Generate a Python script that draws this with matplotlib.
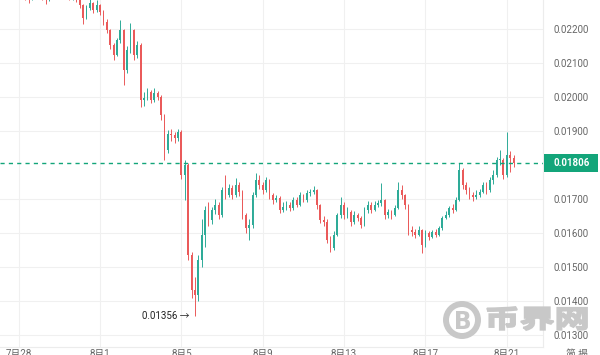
import numpy as np
import matplotlib
matplotlib.use("Agg")
import matplotlib.pyplot as plt
from matplotlib.patches import Rectangle, Circle, PathPatch
from matplotlib.textpath import TextPath
from matplotlib.font_manager import FontProperties
from matplotlib.transforms import Affine2D

plt.rcParams['font.family'] = ['Roboto', 'Noto Sans CJK SC', 'DejaVu Sans']

# ---- data (price in 1e-5 units, 4h candles) ----
SCALE = 1e-5
first_open = 2300
close = [2310, 2320, 2305, 2315, 2325, 2310, 2300, 2295, 2290, 2305,
         2315, 2300, 2295, 2285, 2300, 2310, 2305, 2295, 2310, 2300,
         2290, 2295, 2285, 2270, 2232, 2262, 2276, 2256, 2270, 2250,
         2221, 2197, 2153, 2124, 2168, 2197, 2079, 2138, 2197, 2124,
         2153, 1991, 1997, 2015, 1991, 2012, 2000, 1947, 1844, 1890,
         1888, 1879, 1897, 1771, 1800, 1535, 1432, 1418, 1521, 1594,
         1668, 1638, 1668, 1682, 1653, 1726, 1712, 1732, 1712, 1741,
         1721, 1653, 1615, 1624, 1712, 1756, 1741, 1726, 1756, 1712,
         1697, 1703, 1668, 1676, 1682, 1674, 1697, 1682, 1712, 1697,
         1718, 1721, 1726, 1682, 1638, 1632, 1579, 1556, 1594, 1653,
         1682, 1653, 1662, 1632, 1653, 1644, 1624, 1668, 1682, 1668,
         1682, 1688, 1697, 1653, 1662, 1653, 1674, 1726, 1712, 1682,
         1609, 1603, 1594, 1609, 1565, 1600, 1588, 1603, 1594, 1615,
         1644, 1653, 1674, 1668, 1697, 1785, 1741, 1726, 1712, 1706,
         1712, 1721, 1741, 1726, 1756, 1771, 1815, 1815, 1771, 1829,
         1821, 1806]
high = [2330, 2335, 2325, 2330, 2340, 2330, 2315, 2310, 2305, 2315,
        2325, 2320, 2310, 2300, 2310, 2320, 2320, 2310, 2320, 2315,
        2305, 2305, 2300, 2290, 2275, 2270, 2290, 2280, 2285, 2275,
        2255, 2228, 2200, 2160, 2175, 2226, 2200, 2150, 2218, 2200,
        2165, 2160, 2015, 2026, 2020, 2026, 2018, 2005, 1950, 1903,
        1905, 1897, 1905, 1903, 1815, 1805, 1545, 1470, 1535, 1640,
        1680, 1690, 1675, 1700, 1690, 1735, 1770, 1745, 1740, 1762,
        1750, 1725, 1660, 1640, 1720, 1776, 1770, 1750, 1765, 1760,
        1718, 1712, 1708, 1690, 1695, 1690, 1705, 1705, 1720, 1715,
        1725, 1730, 1738, 1730, 1685, 1650, 1640, 1590, 1605, 1660,
        1706, 1690, 1675, 1668, 1665, 1660, 1650, 1675, 1695, 1690,
        1695, 1698, 1747, 1700, 1670, 1668, 1682, 1750, 1740, 1715,
        1685, 1620, 1612, 1620, 1612, 1610, 1605, 1610, 1612, 1622,
        1650, 1665, 1680, 1685, 1705, 1806, 1790, 1750, 1735, 1720,
        1725, 1730, 1750, 1750, 1765, 1785, 1825, 1845, 1820, 1897,
        1840, 1830]
low = [2295, 2300, 2295, 2300, 2310, 2300, 2290, 2285, 2276, 2285,
       2300, 2290, 2285, 2274, 2282, 2295, 2295, 2288, 2290, 2290,
       2285, 2286, 2278, 2262, 2215, 2228, 2255, 2248, 2250, 2240,
       2212, 2188, 2140, 2110, 2120, 2160, 2035, 2070, 2130, 2110,
       2115, 1970, 1975, 1990, 1982, 1985, 1990, 1932, 1815, 1835,
       1870, 1865, 1870, 1760, 1697, 1520, 1410, 1356, 1400, 1500,
       1560, 1620, 1625, 1655, 1640, 1648, 1700, 1705, 1700, 1705,
       1710, 1640, 1600, 1579, 1615, 1705, 1730, 1715, 1720, 1700,
       1685, 1690, 1660, 1662, 1668, 1665, 1668, 1675, 1678, 1690,
       1692, 1710, 1715, 1670, 1628, 1620, 1570, 1544, 1550, 1590,
       1645, 1640, 1645, 1620, 1625, 1635, 1615, 1620, 1660, 1660,
       1665, 1675, 1680, 1640, 1645, 1640, 1650, 1670, 1700, 1670,
       1595, 1590, 1585, 1590, 1541, 1560, 1580, 1585, 1588, 1590,
       1610, 1640, 1648, 1660, 1665, 1695, 1730, 1715, 1700, 1695,
       1700, 1705, 1718, 1715, 1720, 1745, 1765, 1800, 1760, 1765,
       1780, 1795]
tick_idx = [5, 29, 53, 77, 101, 125, 149]
tick_labels = ['7月28', '8月1', '8月5', '8月9', '8月13', '8月17', '8月21']
y_ticks = [0.013, 0.014, 0.015, 0.016, 0.017, 0.019, 0.020, 0.021, 0.022]
last_price = 0.01806
min_price = 0.01356

# ---- figure ----
W, H = 600, 355
fig = plt.figure(figsize=(W / 100, H / 100), dpi=100)
fig.patch.set_facecolor('white')
ax = fig.add_axes([0, 8 / H, 543 / W, 347 / H])
ax.set_facecolor('white')

c = np.array(close) * SCALE
h = np.array(high) * SCALE
l = np.array(low) * SCALE
o = np.concatenate([[first_open * SCALE], c[:-1]])
x = np.arange(len(c))
up = c >= o
UP, DN = '#2eab98', '#ea5a5a'
cols = np.where(up, UP, DN)

ax.vlines(x, l, h, colors=cols, linewidth=0.7, zorder=3)
body_h = np.maximum(np.abs(c - o), 0.000015)
ax.bar(x, body_h, bottom=np.minimum(o, c), width=0.5, color=cols,
       linewidth=0, zorder=4)

ax.set_xlim(-0.5, 159.7)
ax.set_ylim(0.012647, 0.022853)

GREEN = '#13a57a'
ax.axhline(last_price, color=GREEN, linewidth=1.0, linestyle=(0, (3, 3)), zorder=5)

ax.annotate('0.01356 →', xy=(57, min_price), xytext=(-4, 0), textcoords='offset points',
            ha='right', va='center', fontsize=7, color='#222222', zorder=6)

# axes styling
ax.set_xticks(tick_idx)
ax.set_xticklabels(tick_labels)
ax.set_yticks(y_ticks)
ax.set_yticklabels([f'{v:.5f}' for v in y_ticks])
ax.yaxis.tick_right()
ax.tick_params(axis='y', length=0, pad=7.2, labelsize=7, labelcolor='#666666')
ax.tick_params(axis='x', length=0, pad=1.5, labelsize=7, labelcolor='#666666')
ax.grid(True, color='#f0f0f0', linewidth=0.8, zorder=0)
ax.set_axisbelow(True)
for s in ['left', 'top']:
    ax.spines[s].set_visible(False)
for s in ['right', 'bottom']:
    ax.spines[s].set_color('#ececec')
    ax.spines[s].set_linewidth(0.8)

fig.text(577 / W, 6 / H, '简 揭', fontsize=7, color='#666666', ha='center', va='top')

# last-price box
fig.add_artist(Rectangle((544 / W, 183 / H), 54 / W, 18 / H, transform=fig.transFigure,
                         facecolor=GREEN, edgecolor='none', zorder=5))
fig.text(553 / W, 192 / H, '0.01806', fontsize=7, color='white', ha='left', va='center',
         fontweight='bold', zorder=6)

# watermark
WM = '#c8c8c8'
fig.add_artist(Circle((0, 0), 1, transform=Affine2D().scale(16) + Affine2D().translate(462, 35),
                      facecolor='none', edgecolor=WM, linewidth=4.3, zorder=2))
bp = TextPath((0, 0), 'B', prop=FontProperties(family='DejaVu Sans', weight='bold'), size=10)
ext = bp.get_extents()
tb = Affine2D().translate(-ext.x0 - ext.width / 2, -ext.y0 - ext.height / 2).scale(
    14 / ext.width, 18 / ext.height).translate(463, 35)
fig.add_artist(PathPatch(bp, transform=tb, facecolor=WM, edgecolor='none', zorder=2))
fp = FontProperties(family='Noto Sans CJK SC', weight='bold')
tp = TextPath((0, 0), '币界网', prop=fp, size=20)
ext = tp.get_extents()
tt = Affine2D().translate(-ext.x0, -ext.y0).scale(100 / ext.width, 23 / ext.height).translate(487, 25)
fig.add_artist(PathPatch(tp, transform=tt, facecolor=WM, edgecolor=WM, linewidth=1.3,
                         zorder=2))

fig.savefig('out.png', dpi=100)
